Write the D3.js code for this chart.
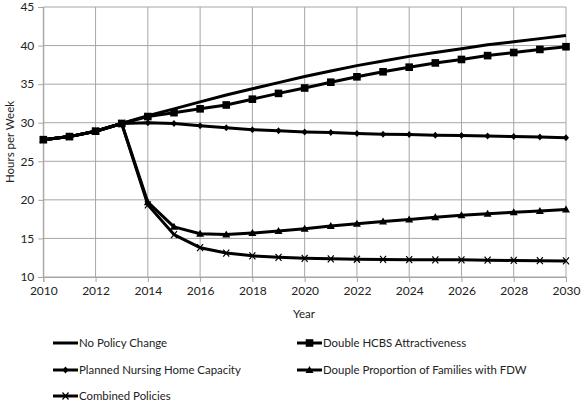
<!DOCTYPE html>
<html><head><meta charset="utf-8">
<script src="https://cdn.jsdelivr.net/npm/d3@7"></script>
<style>body{margin:0;background:#fff}svg{display:block}text{font-family:Lato,"Open Sans",sans-serif;fill:#222}</style>
</head><body><svg id="c" width="581" height="403"></svg>
<script>
const years = d3.range(2010, 2031);
const noPolicy = [27.8,28.2,28.9,29.9,30.9,31.8,32.7,33.6,34.4,35.2,36.0,36.7,37.4,38.0,38.6,39.1,39.6,40.1,40.5,40.9,41.3];
const hcbs     = [27.8,28.2,28.9,29.9,30.8,31.3,31.8,32.3,33.05,33.8,34.5,35.25,35.95,36.6,37.2,37.75,38.2,38.7,39.1,39.5,39.85];
const nursing  = [27.8,28.2,28.9,29.9,30.0,29.9,29.6,29.35,29.1,28.95,28.8,28.72,28.6,28.52,28.46,28.38,28.33,28.28,28.2,28.15,28.05];
const fdw      = [27.8,28.2,28.9,29.9,19.7,16.5,15.6,15.5,15.7,15.95,16.25,16.6,16.9,17.2,17.45,17.75,18.0,18.2,18.4,18.55,18.75];
const combined = [27.8,28.2,28.9,29.9,19.35,15.5,13.8,13.1,12.75,12.55,12.42,12.36,12.3,12.28,12.25,12.23,12.22,12.18,12.15,12.12,12.08];
const yTicks = [10,15,20,25,30,35,40,45];
const xTicks = d3.range(2010, 2031, 2);
const seriesNames = ["No Policy Change","Double HCBS Attractiveness","Planned Nursing Home Capacity","Douple Proportion of Families with FDW","Combined Policies"];
const seriesValues = [noPolicy, hcbs, nursing, fdw, combined];
const markers = ["none","square","diamond","triangle","x"];

const svg = d3.select("#c");
const L = 43.3, R = 566, T = 7, B = 277;
const x = d3.scaleLinear().domain([2010, 2030]).range([L, R]);
const y = d3.scaleLinear().domain([10, 45]).range([B, T]);
const grid = "#a6a6a6";

svg.append("g").selectAll("line").data(yTicks).join("line")
  .attr("x1", L).attr("x2", R).attr("y1", d => y(d)).attr("y2", d => y(d))
  .attr("stroke", grid).attr("stroke-width", 1);
svg.append("g").selectAll("line").data(xTicks).join("line")
  .attr("x1", d => x(d)).attr("x2", d => x(d)).attr("y1", T).attr("y2", B)
  .attr("stroke", grid).attr("stroke-width", 1);

const yAxis = svg.append("g").attr("transform", `translate(${L},0)`)
  .call(d3.axisLeft(y).tickValues(yTicks).tickSize(5).tickPadding(4));
const xAxis = svg.append("g").attr("transform", `translate(0,${B})`)
  .call(d3.axisBottom(x).tickValues(xTicks).tickFormat(d3.format("d")).tickSize(5).tickPadding(4));
[yAxis, xAxis].forEach(a => {
  a.select(".domain").attr("stroke", grid);
  a.selectAll(".tick line").attr("stroke", grid);
  a.selectAll("text").attr("font-size", 12).attr("font-family", "Lato, sans-serif").attr("fill", "#222");
});

svg.append("text").attr("x", 304).attr("y", 318).attr("text-anchor", "middle").attr("font-size", 11.5).text("Year");
svg.append("text").attr("transform", "translate(14,142) rotate(-90)").attr("text-anchor", "middle").attr("font-size", 11.5).text("Hours per Week");

const line = d3.line().x((d, i) => x(years[i])).y(d => y(d));

function drawMarker(g, type, cx, cy) {
  if (type === "square") g.append("rect").attr("x", cx - 3.8).attr("y", cy - 3.8).attr("width", 7.6).attr("height", 7.6).attr("fill", "#000");
  else if (type === "diamond") g.append("path").attr("d", `M${cx},${cy-3.5}L${cx+3},${cy}L${cx},${cy+3.5}L${cx-3},${cy}Z`).attr("fill", "#000");
  else if (type === "triangle") g.append("path").attr("d", `M${cx},${cy-4}L${cx+4},${cy+3}L${cx-4},${cy+3}Z`).attr("fill", "#000");
  else if (type === "x") g.append("path").attr("d", `M${cx-3},${cy-3.5}L${cx+3},${cy+3.5}M${cx-3},${cy+3.5}L${cx+3},${cy-3.5}`).attr("stroke", "#000").attr("stroke-width", 1.2).attr("fill", "none");
}

const order = [4, 3, 2, 1, 0];
order.forEach(si => {
  const g = svg.append("g");
  g.append("path").datum(seriesValues[si]).attr("d", line)
    .attr("fill", "none").attr("stroke", "#000").attr("stroke-width", 3).attr("stroke-linejoin", "round");
  if (markers[si] !== "none") seriesValues[si].forEach((v, i) => drawMarker(g, markers[si], x(years[i]), y(v)));
});

const legPos = [[53, 343], [297, 343], [53, 370], [297, 370], [53, 396]];
seriesNames.forEach((n, i) => {
  const g = svg.append("g");
  const [lx, ly] = legPos[i];
  g.append("line").attr("x1", lx).attr("x2", lx + 25).attr("y1", ly).attr("y2", ly).attr("stroke", "#000").attr("stroke-width", 3);
  if (markers[i] !== "none") drawMarker(g, markers[i], lx + 12.5, ly);
  g.append("text").attr("x", lx + 26).attr("y", ly + 4).attr("font-size", 11.4).text(n);
});
</script></body></html>
